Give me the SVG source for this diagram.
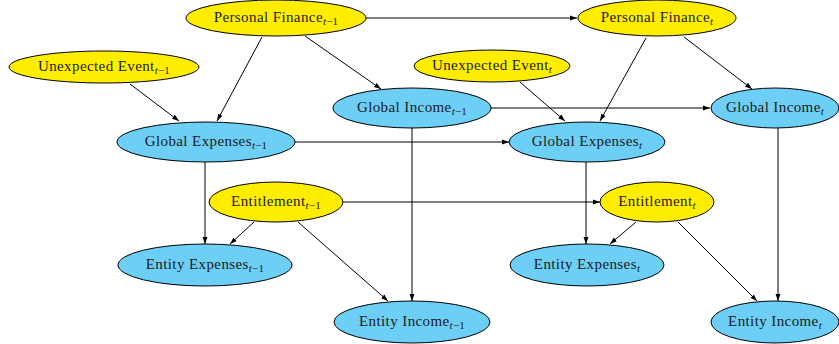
<svg xmlns="http://www.w3.org/2000/svg" width="839" height="344" viewBox="0 0 839 344">
<defs>
<style>
.y{fill:#ffed00;stroke:#000;stroke-width:1}
.b{fill:#6dcff6;stroke:#000;stroke-width:1}
text{font-family:"Liberation Serif","DejaVu Serif",serif;font-size:15px;letter-spacing:0.4px;fill:#1a1a1a;text-anchor:middle}
.s{font-size:11px;letter-spacing:0.2px}
.i{font-style:italic}
.e line{stroke:#000;stroke-width:1;marker-end:url(#a)}
</style>
<marker id="a" viewBox="0 0 10 10" refX="10" refY="5" markerWidth="7" markerHeight="7" orient="auto" markerUnits="userSpaceOnUse">
<path d="M0,1.5 L10,5 L0,8.5 z" fill="#000"/>
</marker>
</defs>
<rect width="839" height="344" fill="#fff"/>
<g class="e" id="edges">
<line x1="366" y1="18" x2="577" y2="18"/>
<line x1="262" y1="37" x2="217" y2="121"/>
<line x1="305" y1="36" x2="381" y2="89"/>
<line x1="130" y1="84" x2="179" y2="121"/>
<line x1="295" y1="142" x2="509" y2="142"/>
<line x1="491" y1="108" x2="710" y2="108"/>
<line x1="520" y1="82" x2="565" y2="121"/>
<line x1="646" y1="38" x2="600" y2="121"/>
<line x1="684" y1="37" x2="752" y2="89"/>
<line x1="205" y1="162" x2="205" y2="244"/>
<line x1="254" y1="222" x2="230" y2="244"/>
<line x1="298" y1="222" x2="388" y2="301"/>
<line x1="412" y1="128" x2="412" y2="301"/>
<line x1="343" y1="202" x2="600" y2="202"/>
<line x1="586" y1="162" x2="586" y2="244"/>
<line x1="636" y1="222" x2="610" y2="244"/>
<line x1="678" y1="222" x2="757" y2="301"/>
<line x1="778" y1="128" x2="778" y2="301"/>
</g>
<g id="pf1"><ellipse class="y" cx="276" cy="18" rx="90" ry="18"/><text x="276" y="22">Personal Finance<tspan class="s" dy="3"><tspan class="i">t</tspan>−1</tspan></text></g>
<g id="pf2"><ellipse class="y" cx="657" cy="18" rx="79" ry="18"/><text x="657" y="22">Personal Finance<tspan class="s i" dy="3">t</tspan></text></g>
<g id="ue1"><ellipse class="y" cx="104" cy="67" rx="95" ry="16"/><text x="104" y="71">Unexpected Event<tspan class="s" dy="3"><tspan class="i">t</tspan>−1</tspan></text></g>
<g id="ue2"><ellipse class="y" cx="492" cy="66" rx="78" ry="16"/><text x="492" y="70">Unexpected Event<tspan class="s i" dy="3">t</tspan></text></g>
<g id="gi1"><ellipse class="b" cx="412" cy="108" rx="79" ry="20"/><text x="412" y="112">Global Income<tspan class="s" dy="3"><tspan class="i">t</tspan>−1</tspan></text></g>
<g id="gi2"><ellipse class="b" cx="775" cy="108" rx="64" ry="20"/><text x="775" y="112">Global Income<tspan class="s i" dy="3">t</tspan></text></g>
<g id="ge1"><ellipse class="b" cx="206" cy="142" rx="89" ry="20"/><text x="206" y="146">Global Expenses<tspan class="s" dy="3"><tspan class="i">t</tspan>−1</tspan></text></g>
<g id="ge2"><ellipse class="b" cx="587" cy="142" rx="78" ry="20"/><text x="587" y="146">Global Expenses<tspan class="s i" dy="3">t</tspan></text></g>
<g id="en1"><ellipse class="y" cx="276" cy="202" rx="67" ry="20"/><text x="276" y="206">Entitlement<tspan class="s" dy="3"><tspan class="i">t</tspan>−1</tspan></text></g>
<g id="en2"><ellipse class="y" cx="657" cy="202" rx="57" ry="20"/><text x="657" y="206">Entitlement<tspan class="s i" dy="3">t</tspan></text></g>
<g id="ee1"><ellipse class="b" cx="205" cy="265" rx="87" ry="21"/><text x="205" y="269">Entity Expenses<tspan class="s" dy="3"><tspan class="i">t</tspan>−1</tspan></text></g>
<g id="ee2"><ellipse class="b" cx="587" cy="265" rx="77" ry="21"/><text x="587" y="269">Entity Expenses<tspan class="s i" dy="3">t</tspan></text></g>
<g id="ei1"><ellipse class="b" cx="412" cy="322" rx="78" ry="21"/><text x="412" y="326">Entity Income<tspan class="s" dy="3"><tspan class="i">t</tspan>−1</tspan></text></g>
<g id="ei2"><ellipse class="b" cx="775" cy="322" rx="64" ry="21"/><text x="775" y="326">Entity Income<tspan class="s i" dy="3">t</tspan></text></g>
</svg>
